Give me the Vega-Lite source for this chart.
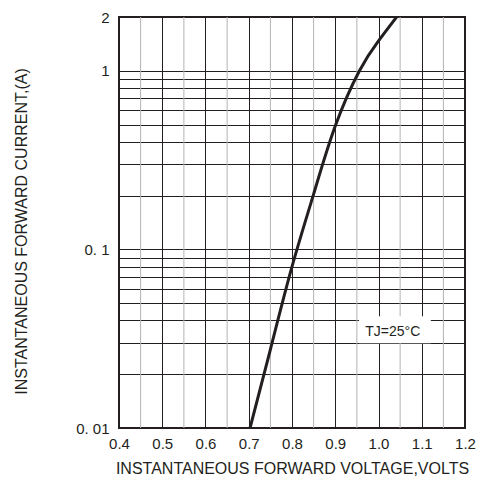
{
  "$schema": "https://vega.github.io/schema/vega-lite/v6.json",
  "width": 346,
  "height": 411,
  "autosize": {"type": "none"},
  "padding": {"left": 119, "top": 17, "right": 38, "bottom": 56},
  "background": "white",
  "config": {"view": {"stroke": "#231f20", "strokeWidth": 2}},
  "datasets": {
    "curve": [
      {"v": 0.703, "i": 0.01},
      {"v": 0.75, "i": 0.0275},
      {"v": 0.8, "i": 0.08},
      {"v": 0.85, "i": 0.204},
      {"v": 0.9, "i": 0.49},
      {"v": 0.956, "i": 1.0},
      {"v": 1.0, "i": 1.47},
      {"v": 1.042, "i": 2.0}
    ],
    "minor": [
      {"x": 0.45}, {"x": 0.55}, {"x": 0.65}, {"x": 0.75}, {"x": 0.85}, {"x": 0.95}, {"x": 1.05}, {"x": 1.15}
    ],
    "label": [
      {"x": 1.033, "y": 0.0344, "x1": 0.955, "x2": 1.121, "y1": 0.0298, "y2": 0.0422, "text": "TJ=25°C"}
    ]
  },
  "layer": [
    {
      "data": {"name": "minor"},
      "mark": {"type": "rule", "color": "#b3b3b3", "strokeWidth": 1},
      "encoding": {
        "x": {
          "field": "x",
          "type": "quantitative",
          "scale": {"domain": [0.4, 1.2], "nice": false, "zero": false},
          "axis": {
            "values": [0.4, 0.5, 0.6, 0.7, 0.8, 0.9, 1.0, 1.1, 1.2],
            "grid": true,
            "gridColor": "#231f20",
            "gridWidth": 1,
            "gridOpacity": 1,
            "ticks": false,
            "domain": false,
            "format": ".1f",
            "labelFont": "Liberation Sans",
            "labelFontSize": 15,
            "labelColor": "#231f20",
            "labelPadding": 8,
            "labelFlush": false,
            "labelOverlap": false,
            "labelBound": false,
            "title": "INSTANTANEOUS FORWARD VOLTAGE,VOLTS",
            "titleFont": "Liberation Sans",
            "titleFontSize": 16,
            "titleFontWeight": "normal",
            "titleColor": "#231f20",
            "titleX": 173,
            "titleY": 40,
            "titleAlign": "center",
            "titleBaseline": "middle"
          }
        }
      }
    },
    {
      "data": {"name": "label"},
      "mark": {"type": "rect", "fill": "white"},
      "encoding": {
        "x": {"field": "x1", "type": "quantitative"},
        "x2": {"field": "x2"},
        "y": {
          "field": "y1",
          "type": "quantitative",
          "scale": {"type": "log", "domain": [0.01, 2], "nice": false},
          "axis": {
            "values": [0.01, 0.02, 0.03, 0.04, 0.05, 0.06, 0.07, 0.08, 0.09, 0.1, 0.2, 0.3, 0.4, 0.5, 0.6, 0.7, 0.8, 0.9, 1, 2],
            "grid": true,
            "gridColor": "#231f20",
            "gridWidth": 1,
            "gridOpacity": 1,
            "ticks": false,
            "domain": false,
            "labelExpr": "datum.value==2 ? '2' : datum.value==1 ? '1' : datum.value==0.1 ? '0. 1' : datum.value==0.01 ? '0. 01' : ''",
            "labelFont": "Liberation Sans",
            "labelFontSize": 15,
            "labelColor": "#231f20",
            "labelPadding": 10,
            "labelFlush": false,
            "labelOverlap": false,
            "labelBound": false,
            "title": "INSTANTANEOUS FORWARD CURRENT,(A)",
            "titleFont": "Liberation Sans",
            "titleFontSize": 16,
            "titleFontWeight": "normal",
            "titleColor": "#231f20",
            "titleX": -98,
            "titleY": 214,
            "titleAngle": -90,
            "titleAlign": "center",
            "titleBaseline": "middle"
          }
        },
        "y2": {"field": "y2"}
      }
    },
    {
      "data": {"name": "label"},
      "mark": {"type": "text", "font": "Liberation Sans", "fontSize": 14, "color": "#231f20", "align": "center", "baseline": "middle"},
      "encoding": {
        "x": {"field": "x", "type": "quantitative"},
        "y": {"field": "y", "type": "quantitative"},
        "text": {"field": "text"}
      }
    },
    {
      "data": {"name": "curve"},
      "mark": {"type": "line", "color": "#231f20", "strokeWidth": 3, "interpolate": "natural", "clip": true},
      "encoding": {
        "x": {"field": "v", "type": "quantitative"},
        "y": {"field": "i", "type": "quantitative"}
      }
    }
  ]
}
